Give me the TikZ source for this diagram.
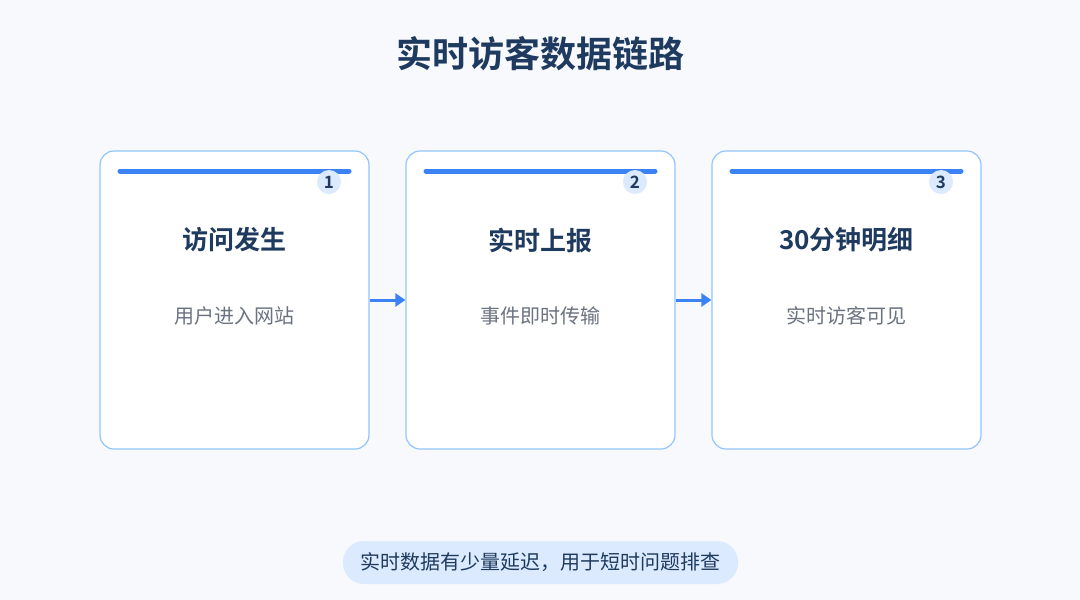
\documentclass[tikz,border=0pt]{standalone}
\usepackage{fontspec}
\setmainfont{Noto Sans CJK SC}
\newfontfamily\cjkb{Noto Sans CJK SC}[BoldFont={* Bold}]
\usetikzlibrary{arrows.meta}
\definecolor{bg}{HTML}{F7F9FD}
\definecolor{bord}{HTML}{93C5FD}
\definecolor{blu}{HTML}{3B82F6}
\definecolor{dark}{HTML}{1E3A5F}
\definecolor{gry}{HTML}{6B7280}
\definecolor{pill}{HTML}{DBEAFE}
\begin{document}
\begin{tikzpicture}[x=1pt,y=-1pt,
 card/.style={draw=bord,line width=1.2pt,fill=white,rounded corners=14pt,minimum width=269pt,minimum height=298pt,inner sep=0pt},
 bar/.style={blu,line width=5pt,line cap=round},
 num/.style={circle,fill=pill,minimum size=24pt,inner sep=0pt,text=dark,font=\cjkb\bfseries\fontsize{17}{17}\selectfont},
 ttl/.style={text=dark,font=\cjkb\bfseries\fontsize{26}{26}\selectfont},
 sub/.style={text=gry,font=\fontsize{20}{20}\selectfont},
 arr/.style={blu,line width=3pt,-{Triangle[length=10pt,width=13pt]}}]
\fill[bg] (0,0) rectangle (1080,600);
\node[text=dark,font=\cjkb\bfseries\fontsize{36}{36}\selectfont] (title) at (540,54) {实时访客数据链路};
\foreach \i/\x/\t/\s in {1/234.5/访问发生/用户进入网站,2/540.5/实时上报/事件即时传输,3/846.5/30分钟明细/实时访客可见}{
 \node[card] (c\i) at (\x,300) {};
 \coordinate (b\i l) at (\x-114.5,171);
 \coordinate (b\i r) at (\x+114.5,171);
 \draw[bar] (b\i l) -- (b\i r);
 \node[num] (n\i) at (\x+94.5,182) {\i};
 \node[ttl] (t\i) at (\x,240) {\t};
 \node[sub] (s\i) at (\x,316) {\s};
}
\draw[arr] (c1.east) -- (c2.west);
\draw[arr] (c2.east) -- (c3.west);
\node[fill=pill,rounded corners=21pt,minimum width=395pt,minimum height=43pt,text=dark,font=\fontsize{20}{20}\selectfont] (note) at (540.5,562.5) {实时数据有少量延迟，用于短时问题排查};
\end{tikzpicture}
\end{document}
